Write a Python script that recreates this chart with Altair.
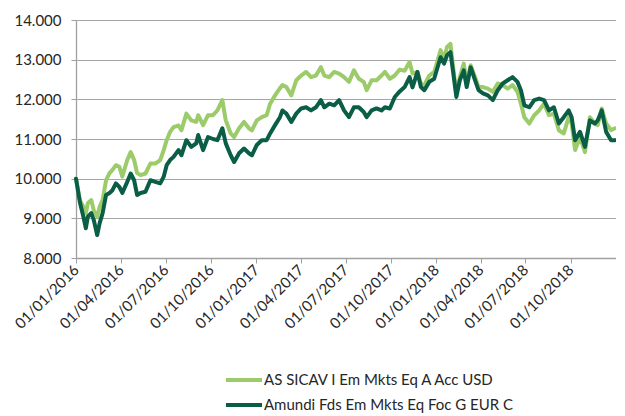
import altair as alt
import pandas as pd

series_names = ["AS SICAV I Em Mkts Eq A Acc USD", "Amundi Fds Em Mkts Eq Foc G EUR C"]
series_colors = ["#9CCB6A", "#0A5E46"]

# days since 01/01/2016
day_offsets = [0, 8, 15, 20, 24, 31, 36, 43, 48, 54, 61, 68, 74, 81, 88, 94, 104, 111, 118, 124,
               131, 141, 151, 161, 171, 178, 184, 191, 198, 208, 214, 224, 234, 244, 248, 258, 268, 278, 287, 297,
               304, 314, 321, 331, 341, 351, 357, 367, 377, 387, 394, 404, 414, 419, 427, 437, 447, 457, 467, 477,
               487, 497, 504, 514, 524, 534, 544, 554, 564, 574, 584, 590, 600, 610, 620, 627, 637, 647, 657, 667,
               677, 683, 693, 700, 707, 717, 727, 733, 740, 747, 753, 760, 765, 772, 779, 787, 793, 801, 810, 817,
               826, 836, 846, 856, 866, 876, 886, 896, 903, 910, 920, 930, 940, 950, 960, 970, 980, 990, 1000, 1006,
               1013, 1023, 1033, 1043, 1053, 1059, 1067, 1076, 1086, 1094]

light_values = [10.0, 9.46, 9.29, 9.13, 9.38, 9.46, 9.2, 9.04, 9.29, 9.46, 9.96, 10.14, 10.22, 10.34, 10.3, 10.05, 10.47, 10.67, 10.47, 10.14,
                10.09, 10.13, 10.38, 10.38, 10.47, 10.72, 10.97, 11.18, 11.3, 11.34, 11.22, 11.64, 11.47, 11.43, 11.6, 11.35, 11.6, 11.6, 11.72, 11.98,
                11.47, 11.14, 11.05, 11.27, 11.43, 11.27, 11.22, 11.47, 11.55, 11.6, 11.89, 12.1, 12.28, 12.36, 12.31, 12.1, 12.48, 12.6, 12.69, 12.56,
                12.6, 12.81, 12.6, 12.56, 12.69, 12.65, 12.56, 12.44, 12.73, 12.52, 12.44, 12.23, 12.48, 12.48, 12.6, 12.69, 12.52, 12.6, 12.75, 12.72,
                12.94, 12.65, 12.69, 12.4, 12.36, 12.6, 12.69, 12.94, 13.24, 13.03, 13.32, 13.4, 12.86, 12.15, 12.56, 12.9, 12.4, 12.86, 12.56, 12.31,
                12.31, 12.27, 12.19, 12.4, 12.36, 12.27, 12.36, 12.19, 11.89, 11.55, 11.39, 11.6, 11.72, 11.89, 11.6, 11.64, 11.22, 11.14, 11.55, 11.39,
                10.72, 11.05, 10.67, 11.55, 11.39, 11.35, 11.77, 11.39, 11.22, 11.27]

dark_values = [10.0, 9.4, 9.04, 8.75, 9.04, 9.13, 8.96, 8.58, 8.88, 9.13, 9.59, 9.64, 9.71, 9.88, 9.79, 9.64, 9.92, 10.13, 9.96, 9.59,
               9.64, 9.67, 9.96, 9.92, 9.88, 10.05, 10.34, 10.47, 10.55, 10.72, 10.59, 10.97, 10.8, 10.89, 11.1, 10.72, 11.05, 11.0, 10.97, 11.27,
               10.89, 10.59, 10.42, 10.64, 10.76, 10.64, 10.59, 10.85, 10.97, 10.97, 11.14, 11.35, 11.55, 11.72, 11.64, 11.43, 11.64, 11.77, 11.8, 11.72,
               11.8, 11.98, 11.8, 11.89, 11.85, 11.98, 11.72, 11.55, 11.8, 11.8, 11.68, 11.55, 11.72, 11.77, 11.72, 11.8, 11.77, 12.06, 12.2, 12.31,
               12.56, 12.3, 12.69, 12.31, 12.23, 12.44, 12.52, 12.77, 13.06, 12.9, 13.11, 13.19, 12.73, 12.06, 12.48, 12.73, 12.31, 12.81, 12.48, 12.23,
               12.15, 12.1, 11.98, 12.23, 12.4, 12.48, 12.56, 12.44, 12.23, 11.85, 11.8, 11.98, 12.02, 11.98, 11.72, 11.8, 11.39, 11.55, 11.72, 11.55,
               10.97, 11.18, 10.8, 11.47, 11.39, 11.47, 11.72, 11.18, 10.97, 10.97]

tick_dates = ["2016-01-01", "2016-04-01", "2016-07-01", "2016-10-01",
              "2017-01-01", "2017-04-01", "2017-07-01", "2017-10-01",
              "2018-01-01", "2018-04-01", "2018-07-01", "2018-10-01"]
y_ticks = [8, 9, 10, 11, 12, 13, 14]


def to_dt(s):
    t = pd.Timestamp(s)
    return alt.DateTime(year=t.year, month=t.month, date=t.day)


dates = pd.Timestamp("2016-01-01") + pd.to_timedelta(day_offsets, unit="D")
rows = []
for name, vals in zip(series_names, [light_values, dark_values]):
    for d, v in zip(dates, vals):
        rows.append({"date": d, "value": v, "series": name})
df = pd.DataFrame(rows)

color = alt.Color("series:N", scale=alt.Scale(domain=series_names, range=series_colors), legend=None)

x_enc = alt.X(
    "date:T",
    scale=alt.Scale(domain=[to_dt("2016-01-01"), to_dt("2019-01-01")]),
    axis=alt.Axis(values=[to_dt(s) for s in tick_dates], format="%d/%m/%Y", labelAngle=-45,
                  labelAlign="right", labelBaseline="middle", grid=False, title=None,
                  labelPadding=4, tickSize=5, labelOverlap=False, labelBound=False),
)
y_enc = alt.Y(
    "value:Q",
    scale=alt.Scale(domain=[8, 14], nice=False, zero=False),
    axis=alt.Axis(values=y_ticks, format=".3f", title=None, grid=True, tickSize=5, labelPadding=10),
)

base = alt.Chart(df).mark_line(strokeWidth=4, strokeJoin="round", strokeCap="round")
light = base.transform_filter(alt.datum.series == series_names[0]).encode(x=x_enc, y=y_enc, color=color)
dark = base.transform_filter(alt.datum.series == series_names[1]).encode(x=x_enc, y=y_enc, color=color)
lines = alt.layer(light, dark)

leg = pd.DataFrame({"series": series_names})
leg_y = alt.Y("series:N", scale=alt.Scale(type="point", domain=series_names, range=[360, 385], padding=0), axis=None)
leg_rule = alt.Chart(leg).mark_rule(strokeWidth=4).encode(
    x=alt.value(150), x2=alt.value(186), y=leg_y, color=color)
leg_text = alt.Chart(leg).mark_text(align="left", baseline="middle", font="Lato", fontSize=15, color="#262626").encode(
    x=alt.value(188), y=leg_y, text="series:N")
legend = alt.layer(leg_rule, leg_text)

chart = alt.layer(lines, legend).resolve_scale(y="independent").properties(
    width=540, height=238,
    autosize=alt.AutoSizeParams(type="none"),
    padding={"left": 68, "top": 12, "right": 0, "bottom": 158},
).configure_axis(
    labelFont="Lato", labelFontSize=15, labelColor="#262626",
    domainColor="#A0A0A0", tickColor="#A0A0A0", gridColor="#A6A6A6",
    gridWidth=1, domainWidth=1.3,
).configure_view(strokeWidth=0)

chart.save("out.html", embed_options={"renderer": "svg", "actions": False})
